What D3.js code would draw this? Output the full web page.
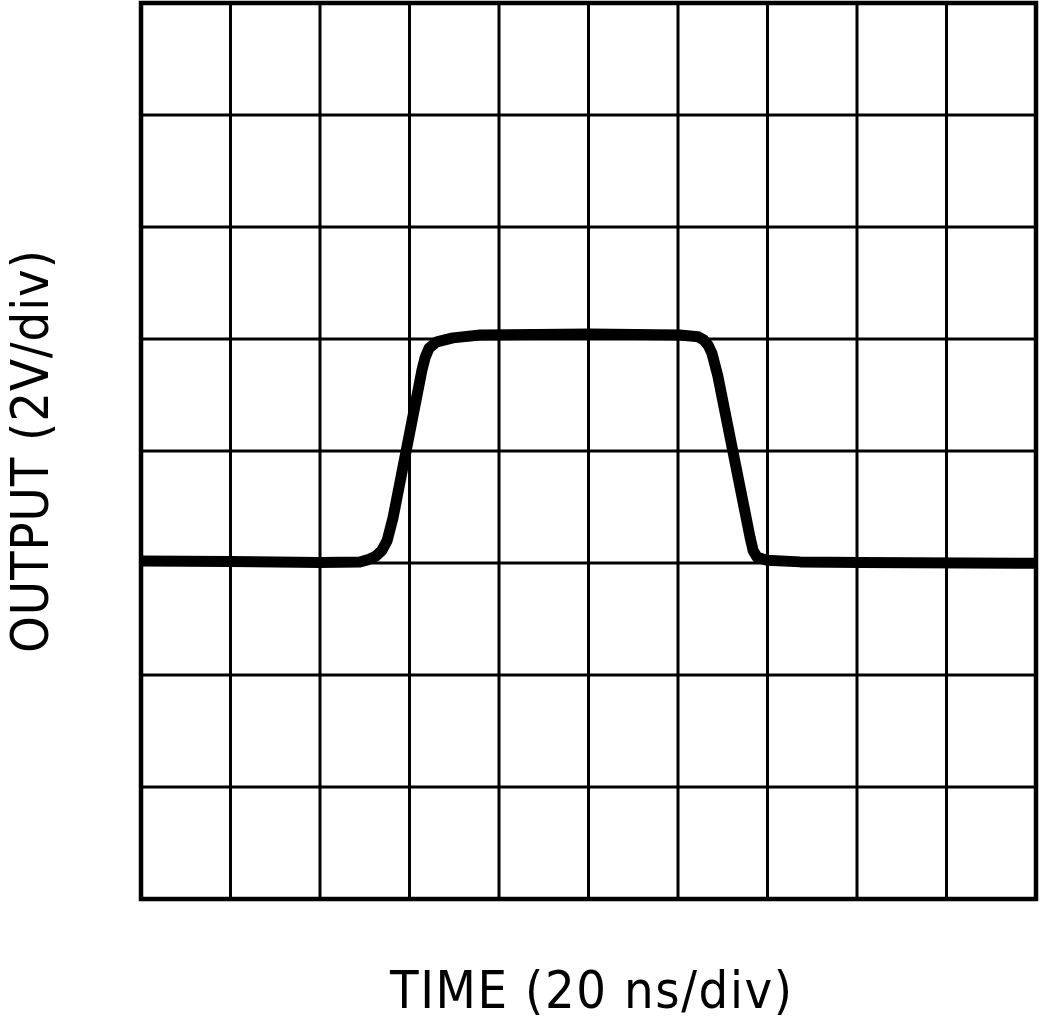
<!DOCTYPE html>
<html><head><meta charset="utf-8">
<script src="https://cdn.jsdelivr.net/npm/d3@7"></script>
<style>html,body{margin:0;padding:0;background:#fff;}svg{display:block;}</style>
</head><body>
<svg id="c" width="1040" height="1019"></svg>
<script>
// time in ns (20 ns/div), output in V (2 V/div)
const timeNs = [0, 19.9, 40.0, 48.9, 50.8, 52.4, 53.8, 55.0, 56.3, 62.8, 63.5, 64.4, 66.1, 69.7, 75.8, 100.3, 120.4, 124.5, 125.8, 126.8, 127.6, 128.9, 136.1, 136.8, 137.7, 139.9, 147.3, 160.7, 200];
const outputV = [0.036, 0.027, 0.009, 0.018, 0.06, 0.12, 0.22, 0.40, 0.80, 3.45, 3.67, 3.84, 3.95, 4.02, 4.07, 4.09, 4.07, 4.04, 3.98, 3.88, 3.74, 3.34, 0.46, 0.22, 0.10, 0.05, 0.02, 0.01, -0.005];
const xTicks = [0, 20, 40, 60, 80, 100, 120, 140, 160, 180, 200];
const yTicks = [-6, -4, -2, 0, 2, 4, 6, 8, 10];
const xLabel = "TIME (20 ns/div)";
const yLabel = "OUTPUT (2V/div)";

const svg = d3.select("#c");
const L = 141, R = 1036, T = 3, B = 899;
const x = d3.scaleLinear().domain([0, 200]).range([L, R]);
const y = d3.scaleLinear().domain([-6, 10]).range([B, T]);

const g = svg.append("g");
g.selectAll("line.v").data(xTicks.slice(1, -1)).join("line")
  .attr("x1", d => x(d)).attr("x2", d => x(d)).attr("y1", T).attr("y2", B)
  .attr("stroke", "#000").attr("stroke-width", 3);
g.selectAll("line.h").data(yTicks.slice(1, -1)).join("line")
  .attr("y1", d => y(d)).attr("y2", d => y(d)).attr("x1", L).attr("x2", R)
  .attr("stroke", "#000").attr("stroke-width", 3);
g.append("rect").attr("x", L).attr("y", T).attr("width", R - L).attr("height", B - T)
  .attr("fill", "none").attr("stroke", "#000").attr("stroke-width", 4.5);

const pts = timeNs.map((t, i) => [t, outputV[i]]);
const line = d3.line().x(d => x(d[0])).y(d => y(d[1])).curve(d3.curveLinear);
svg.append("path").datum(pts).attr("d", line)
  .attr("fill", "none").attr("stroke", "#000").attr("stroke-width", 11)
  .attr("stroke-linejoin", "round").attr("stroke-linecap", "butt");

const font = "'DejaVu Sans Condensed', 'DejaVu Sans', sans-serif";
svg.append("text").attr("x", 390).attr("y", 1008)
  .attr("font-family", font).attr("font-size", 52)
  .attr("textLength", 402).attr("lengthAdjust", "spacing")
  .text(xLabel);
svg.append("text").attr("transform", "translate(48,653) rotate(-90)")
  .attr("font-family", font).attr("font-size", 52)
  .attr("textLength", 403).attr("lengthAdjust", "spacing")
  .text(yLabel);
</script>
</body></html>
